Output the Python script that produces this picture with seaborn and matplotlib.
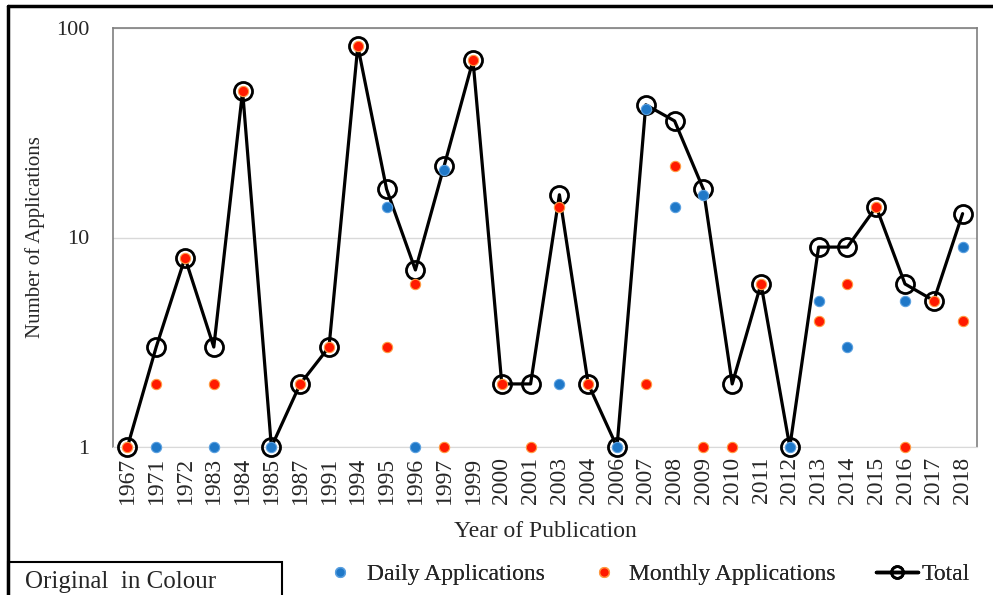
# Applications by year of publication (log scale)
import numpy as np
import pandas as pd
import matplotlib
matplotlib.use("Agg")
import matplotlib.pyplot as plt
import seaborn as sns
from matplotlib.lines import Line2D
from matplotlib.patches import Rectangle

# Data (NaN = not shown)
years = ["1967", "1971", "1972", "1983", "1984", "1985", "1987", "1991", "1994", "1995",
         "1996", "1997", "1999", "2000", "2001", "2003", "2004", "2006", "2007", "2008",
         "2009", "2010", "2011", "2012", "2013", "2014", "2015", "2016", "2017", "2018"]
daily = [np.nan, 1, np.nan, 1, np.nan, 1, np.nan, np.nan, np.nan, 14,
         1, 21, np.nan, np.nan, np.nan, 2, np.nan, 1, 41, 14,
         16, np.nan, np.nan, 1, 5, 3, np.nan, 5, np.nan, 9]
monthly = [1, 2, 8, 2, 50, np.nan, 2, 3, 82, 3,
           6, 1, 70, 2, 1, 14, 2, np.nan, 2, 22,
           1, 1, 6, np.nan, 4, 6, 14, 1, 5, 4]
total = [1, 3, 8, 3, 50, 1, 2, 3, 82, 17,
         7, 22, 70, 2, 2, 16, 2, 1, 43, 36,
         17, 2, 6, 1, 9, 9, 14, 6, 5, 13]

df = pd.DataFrame({"year": years, "daily": daily, "monthly": monthly, "total": total})
df["pos"] = np.arange(len(df))

BLUE, BLUE_EDGE = "#1f78c8", "#5aa0e0"
RED, RED_EDGE = "#ff1a00", "#ff9a40"

sns.set_style("white")
plt.rcParams["font.family"] = ["Liberation Serif", "DejaVu Serif"]

fig = plt.figure(figsize=(9.93, 5.95), dpi=100)
ax = fig.add_axes([113 / 993, 1 - 447 / 595, 864 / 993, 419 / 595])

# Total line with hollow circles
sns.lineplot(data=df, x="pos", y="total", ax=ax, color="black", linewidth=2.3,
             marker="o", markersize=13, markerfacecolor="none", markeredgecolor="black",
             markeredgewidth=2.0, clip_on=False, zorder=3)

# Daily / monthly dots
sns.scatterplot(data=df, x="pos", y="daily", ax=ax, color=BLUE, edgecolor=BLUE_EDGE,
                linewidth=0.8, s=55, clip_on=False, zorder=4)
sns.scatterplot(data=df, x="pos", y="monthly", ax=ax, color=RED, edgecolor=RED_EDGE,
                linewidth=0.8, s=55, clip_on=False, zorder=5)

ax.set_yscale("log")
ax.set_ylim(1, 100)
ax.set_xlim(-0.5, len(years) - 0.5)
ax.set_yticks([1, 10, 100])
ax.set_yticklabels(["1", "10", "100"], fontsize=16)
ax.yaxis.set_minor_locator(matplotlib.ticker.NullLocator())
ax.set_xticks(df["pos"])
ax.set_xticklabels(years, rotation=90, fontsize=17)
ax.tick_params(axis="y", length=0, pad=17)
ax.tick_params(axis="x", length=0, pad=7)

ax.grid(axis="y", color="#d9d9d9", linewidth=1)
ax.set_axisbelow(True)
for side in ["left", "top", "right"]:
    ax.spines[side].set_color("#7f7f7f")
    ax.spines[side].set_linewidth(1.2)
ax.spines["bottom"].set_color("#d9d9d9")

ax.set_xlabel("Year of Publication", fontsize=17, labelpad=12)
ax.set_ylabel("Number of Applications", fontsize=15, labelpad=8)

# Legend: three separate entries placed like the reference
entries = [
    (Line2D([], [], linestyle="none", marker="o", markersize=7, color=BLUE,
            markeredgecolor=BLUE_EDGE), "Daily Applications", 328, 1.0, 0.64),
    (Line2D([], [], linestyle="none", marker="o", markersize=7, color=RED,
            markeredgecolor=RED_EDGE), "Monthly Applications", 592, 1.0, 0.55),
    (Line2D([], [], color="black", linewidth=2.5, marker="o", markersize=8.5,
            markerfacecolor="none", markeredgecolor="black", markeredgewidth=2.0),
     "Total", 876, 1.78, 0.17),
]
for handle, label, x0, hlen, hpad in entries:
    leg = fig.legend([handle], [label], loc="center left",
                     bbox_to_anchor=(x0 / 993, 1 - 574 / 595), frameon=False,
                     fontsize=17, handlelength=hlen, handletextpad=hpad,
                     borderpad=0, borderaxespad=0)
    fig.add_artist(leg)

# Outer frame and caption box
fig.add_artist(Line2D([8 / 993, 8 / 993], [0, 1 - 6 / 595], color="black", linewidth=2.5,
                      transform=fig.transFigure))
fig.add_artist(Line2D([8 / 993, 1], [1 - 6 / 595, 1 - 6 / 595], color="black", linewidth=2.5,
                      transform=fig.transFigure))
fig.add_artist(Rectangle((8 / 993, -0.01), 274 / 993, 0.01 + 33 / 595, fill=False,
                         edgecolor="black", linewidth=1.5, transform=fig.transFigure))
fig.text(25 / 993, 1 - 582 / 595, "Original  in Colour", fontsize=18, va="center", ha="left")

fig.savefig("out.png", dpi=100)
